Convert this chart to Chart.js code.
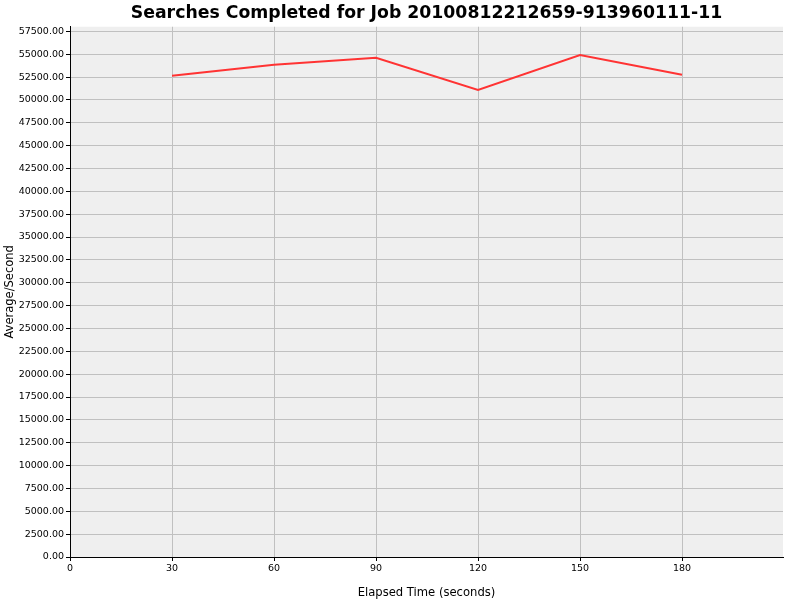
<!DOCTYPE html>
<html>
<head>
  <meta charset="utf-8" />
  <title>Searches Completed</title>
  <script src="https://cdn.jsdelivr.net/npm/chart.js"></script>
  <style>
    body { margin: 0; background: #fff; }
  </style>
</head>
<body>
  <canvas id="searchChart" width="800" height="600"></canvas>

  <script>
    // Data
    const chartTitle = 'Searches Completed for Job 20100812212659-913960111-11';
    const elapsedSeconds = [30, 60, 90, 120, 150, 180];
    const searchesPerSecond = [52650, 53850, 54600, 51100, 54900, 52750];

    // Tick values shown on the axes
    const xTickValues = [0, 30, 60, 90, 120, 150, 180];
    const yTickValues = [0, 2500, 5000, 7500, 10000, 12500, 15000, 17500, 20000, 22500,
      25000, 27500, 30000, 32500, 35000, 37500, 40000, 42500, 45000, 47500,
      50000, 52500, 55000, 57500];

    // Paint the grey plot background behind the grid
    const plotBackground = {
      id: 'plotBackground',
      beforeDraw(chart) {
        const a = chart.chartArea;
        const ctx = chart.ctx;
        ctx.save();
        ctx.fillStyle = '#efefef';
        ctx.fillRect(a.left, a.top, a.right - a.left, a.bottom - a.top);
        ctx.restore();
      }
    };

    const points = elapsedSeconds.map((x, i) => ({ x: x, y: searchesPerSecond[i] }));

    const ctx = document.getElementById('searchChart').getContext('2d');
    new Chart(ctx, {
      type: 'line',
      data: {
        datasets: [{
          label: 'Searches Completed',
          data: points,
          borderColor: '#ff3333',
          borderWidth: 2,
          pointRadius: 0,
          fill: false,
          tension: 0
        }]
      },
      options: {
        responsive: false,
        animation: false,
        layout: { padding: { left: 0, right: 17, top: 0, bottom: 0 } },
        plugins: {
          legend: { display: false },
          tooltip: { enabled: false },
          title: {
            display: true,
            text: chartTitle,
            fullSize: false,
            color: '#000',
            font: { family: 'DejaVu Sans', size: 17.3, weight: 'bold' },
            padding: { top: 3, bottom: 3 }
          }
        },
        scales: {
          x: {
            type: 'linear',
            min: 0,
            max: 209.7,
            afterFit(scale) { scale.height = 43; },
            afterBuildTicks(scale) { scale.ticks = xTickValues.map(v => ({ value: v })); },
            ticks: {
              autoSkip: false,
              maxRotation: 0,
              color: '#000',
              padding: 2,
              font: { family: 'DejaVu Sans', size: 9.5 },
              callback: v => String(v)
            },
            grid: { color: '#c0c0c0', tickColor: '#000', tickLength: 4 },
            border: { color: '#000', width: 1 },
            title: {
              display: true,
              text: 'Elapsed Time (seconds)',
              color: '#000',
              font: { family: 'DejaVu Sans', size: 11.6 },
              padding: { top: 7, bottom: 0 }
            }
          },
          y: {
            min: 0,
            max: 58000,
            afterFit(scale) { scale.width = 70; },
            afterBuildTicks(scale) { scale.ticks = yTickValues.map(v => ({ value: v })); },
            ticks: {
              autoSkip: false,
              color: '#000',
              padding: 2,
              font: { family: 'DejaVu Sans', size: 9.5 },
              callback: v => Number(v).toFixed(2)
            },
            grid: { color: '#c0c0c0', tickColor: '#000', tickLength: 4 },
            border: { color: '#000', width: 1 },
            title: {
              display: true,
              text: 'Average/Second',
              color: '#000',
              font: { family: 'DejaVu Sans', size: 11.5 },
              padding: { top: 3, bottom: 0 }
            }
          }
        }
      },
      plugins: [plotBackground]
    });
  </script>
</body>
</html>
